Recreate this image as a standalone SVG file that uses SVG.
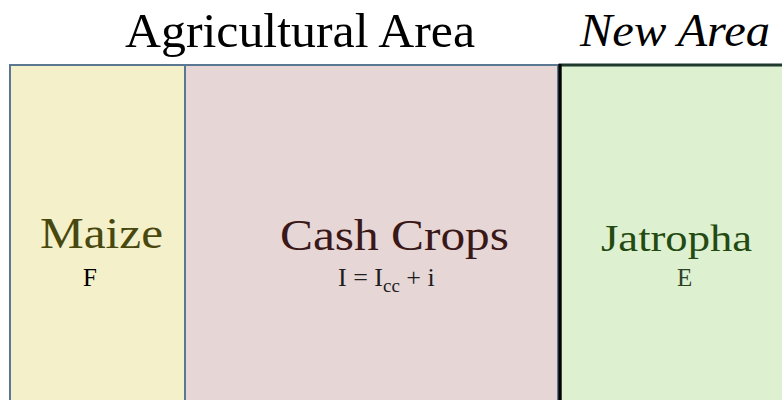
<svg xmlns="http://www.w3.org/2000/svg" width="782" height="400" viewBox="0 0 782 400" font-family="'Liberation Serif', 'DejaVu Serif', serif">
<rect width="782" height="400" fill="#fff"/>
<text x="125" y="47" font-size="48" fill="#000" textLength="350" lengthAdjust="spacingAndGlyphs">Agricultural Area</text>
<text x="580" y="46" font-size="46" font-style="italic" fill="#000" textLength="190" lengthAdjust="spacingAndGlyphs">New Area</text>
<g id="maize">
<rect x="10" y="65" width="175" height="345" fill="#f4f0ca" stroke="#5b7892" stroke-width="2"/>
<text x="40" y="248" font-size="45" textLength="123" lengthAdjust="spacingAndGlyphs" fill="#48480e">Maize</text>
<text x="83" y="286" font-size="25" fill="#000">F</text>
</g>
<g id="cashcrops">
<rect x="185" y="65" width="373" height="345" fill="#e6d6d6" stroke="#5b7892" stroke-width="2"/>
<text x="280" y="250" font-size="44" textLength="229" lengthAdjust="spacingAndGlyphs" fill="#3a1818">Cash Crops</text>
<text x="338" y="286" font-size="26" fill="#1e1e1e">I = I<tspan font-size="19" dy="6">cc</tspan><tspan dy="-6"> + i</tspan></text>
</g>
<g id="jatropha">
<rect x="560" y="65" width="240" height="345" fill="#ddf0d0" stroke="#1f3a2c" stroke-width="3"/>
<line x1="560" y1="64" x2="560" y2="400" stroke="#000" stroke-width="3"/>
<text x="601" y="251" font-size="38" textLength="151" lengthAdjust="spacingAndGlyphs" fill="#234a10">Jatropha</text>
<text x="677" y="286" font-size="25" fill="#2f4226">E</text>
</g>
<g id="connectors"></g>
</svg>
